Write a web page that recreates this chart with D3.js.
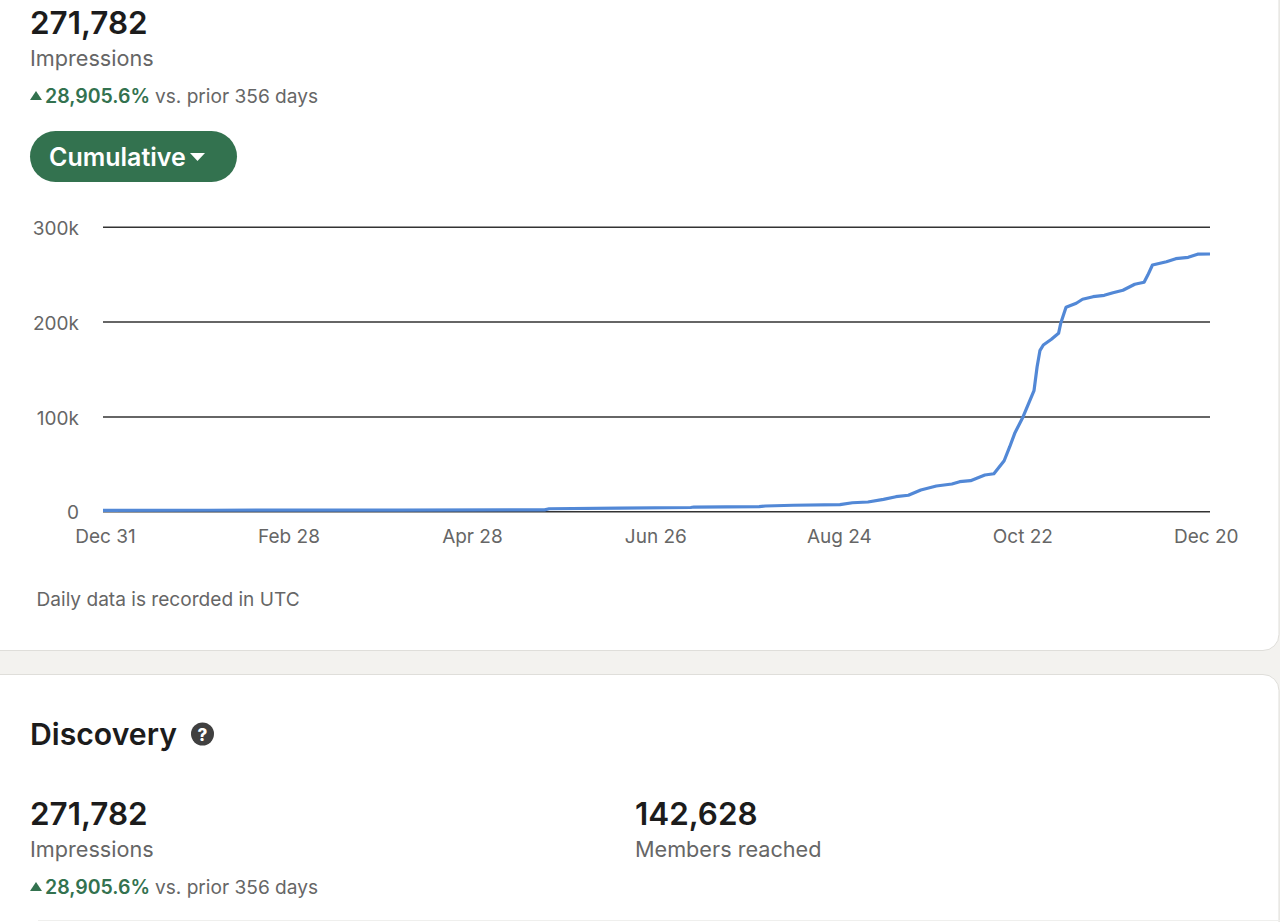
<!DOCTYPE html>
<html>
<head>
<meta charset="utf-8">
<script src="https://cdn.jsdelivr.net/npm/d3@7"></script>
<style>
  html, body { margin: 0; padding: 0; background: #f3f2ef; overflow: hidden; }
  text { font-family: Inter, "Noto Sans", sans-serif; }
  .axis text { font-size: 19px; fill: #666; }
  .axis .domain { display: none; }
  .axis line { stroke: #333; stroke-width: 1.5; }
</style>
</head>
<body>
<svg id="page" width="1280" height="922"></svg>
<script>
// days since Dec 31
var days = [0, 34, 95, 142, 143.5, 166, 189, 190, 211, 213, 222, 237, 241, 246, 251, 255, 259, 263, 268, 273,
  275.5, 279, 283.6, 286.5, 289.8, 291.6, 293.2, 295.9, 299.4, 300.4, 301.3, 302.4, 305, 307.3, 308, 309.7,
  313, 315, 318.4, 322, 324.8, 328, 331.8, 334.8, 336, 337.5, 342, 345, 349, 352, 356];
// cumulative impressions, in thousands
var impressions = [0.9, 1.1, 1.3, 1.5, 2.7, 3.4, 4.0, 4.5, 5.0, 5.6, 6.4, 7.0, 9.0, 9.8, 12.6, 15.4, 16.9, 22.5, 26.7, 28.8,
  31.2, 32.3, 38.3, 39.6, 53.3, 68.1, 82.2, 99.7, 127.1, 152.4, 169.3, 175.3, 181.3, 187.6, 198.2, 215,
  219.3, 223.5, 226.2, 227.7, 230.4, 233, 239.3, 241.4, 249, 259.6, 263.1, 266.3, 267.7, 271, 271.2];

var xTickDays = [0, 59, 118, 177, 236, 295, 354];
var xTickLabels = ['Dec 31', 'Feb 28', 'Apr 28', 'Jun 26', 'Aug 24', 'Oct 22', 'Dec 20'];
var yTicks = [0, 100, 200, 300];

var svg = d3.select('#page');

/* CARDS */
svg.append('rect').attr('x', -20).attr('y', -40).attr('width', 1299).attr('height', 690.5).attr('rx', 16)
  .style('fill', '#fff').style('stroke', '#dfdeda').style('stroke-width', 1);
svg.append('rect').attr('x', -20).attr('y', 674.5).attr('width', 1299).attr('height', 300).attr('rx', 16)
  .style('fill', '#fff').style('stroke', '#dfdeda').style('stroke-width', 1);
svg.append('line').attr('x1', 38).attr('x2', 1280).attr('y1', 920.5).attr('y2', 920.5)
  .style('stroke', '#efefed');

function label(x, y, str, size, weight, fill) {
  return svg.append('text').attr('x', x).attr('y', y).text(str)
    .style('font-size', size + 'px').style('font-weight', weight).style('fill', fill);
}

var green = '#33724f';
function metric(x, y, num) {
  label(x, y, num, 31.4, 600, '#1c1c1c');
}
function change(y) {
  svg.append('path').attr('d', 'M30,' + (y - 3) + 'h12l-6,-9z').style('fill', green);
  label(45, y, '28,905.6%', 19.5, 600, green);
  label(155, y, 'vs. prior 356 days', 19.1, 400, '#666');
}

/* TOP BLOCK */
metric(30, 34, '271,782');
label(30, 66, 'Impressions', 21.65, 400, '#666');
change(103);

svg.append('rect').attr('x', 30).attr('y', 131).attr('width', 207).attr('height', 51).attr('rx', 25.5)
  .style('fill', green);
label(49, 166, 'Cumulative', 25, 600, '#fff');
svg.append('path').attr('d', 'M190,153h15l-7.5,8z').style('fill', '#fff');

/* CHART */
var x = d3.scaleLinear().domain([0, 356]).range([103, 1210]);
var y = d3.scaleLinear().domain([0, 300]).range([511.3, 226.7]);

var yAxis = d3.axisLeft(y)
  .tickValues(yTicks)
  .tickSize(-1107)
  .tickPadding(24)
  .tickFormat(function(d) { return d === 0 ? '0' : d + 'k'; });

var gy = svg.append('g').attr('class', 'axis').attr('transform', 'translate(103,0)').call(yAxis);
gy.selectAll('text').attr('y', 1.5);

var xAxis = d3.axisBottom(x)
  .tickValues(xTickDays)
  .tickSize(0)
  .tickPadding(18)
  .tickFormat(function(d, i) { return xTickLabels[i]; });

var gx = svg.append('g').attr('class', 'axis').attr('transform', 'translate(2,511.3)').call(xAxis);
gx.selectAll('text').attr('dy', '0.71em');

var line = d3.line()
  .x(function(d, i) { return x(days[i]); })
  .y(function(d) { return y(d); });

svg.append('path').datum(impressions).attr('d', line)
  .style('fill', 'none').style('stroke', '#5288d6').style('stroke-width', 3.2)
  .style('stroke-linejoin', 'round');

label(36.5, 606, 'Daily data is recorded in UTC', 19.1, 400, '#666');

/* DISCOVERY BLOCK */
label(30, 745, 'Discovery', 30.2, 600, '#1c1c1c');
svg.append('circle').attr('cx', 202.5).attr('cy', 734).attr('r', 11.5).style('fill', '#404040');
label(202.5, 740.5, '?', 17, 800, '#fff').attr('text-anchor', 'middle');

metric(30, 825, '271,782');
label(30, 857, 'Impressions', 21.65, 400, '#666');
change(894);

metric(635, 825, '142,628');
label(635, 857, 'Members reached', 21.65, 400, '#666');
</script>
</body>
</html>
